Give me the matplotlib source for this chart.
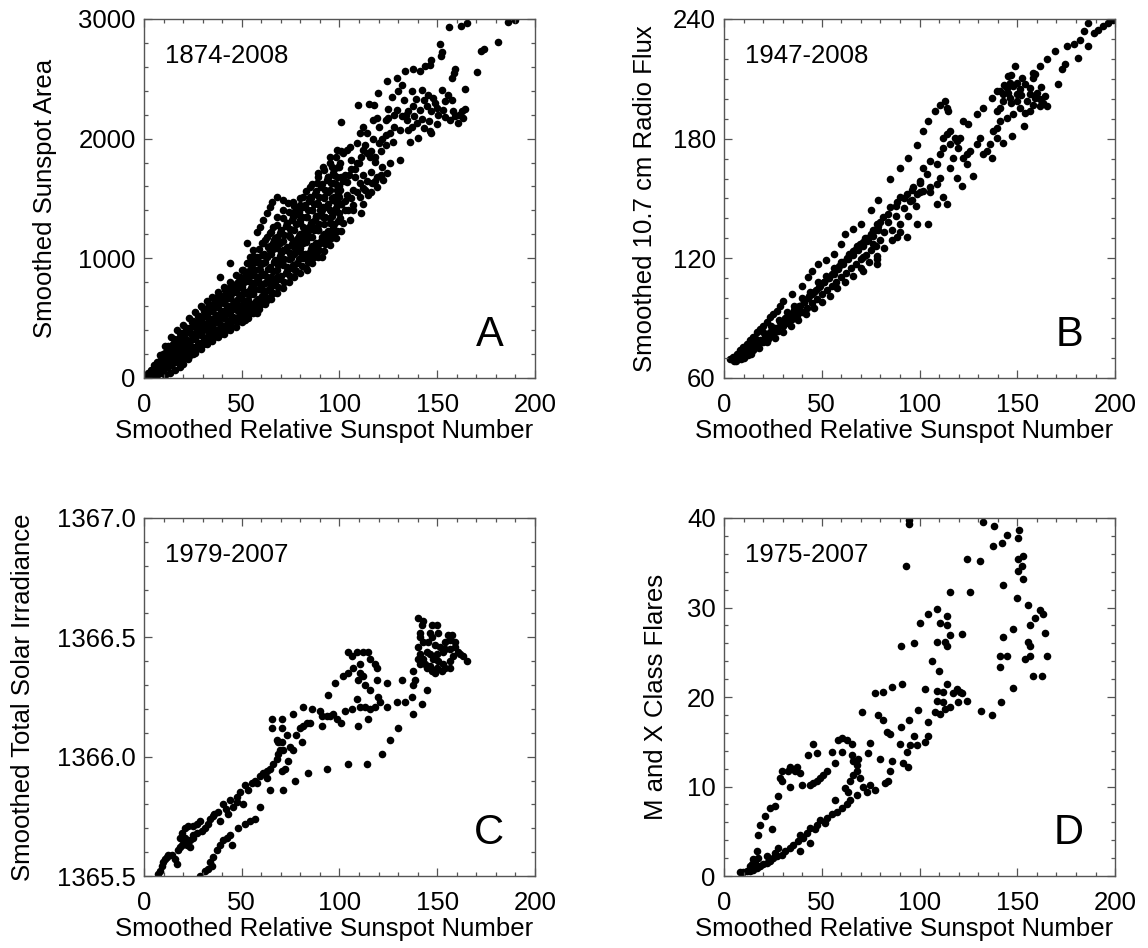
import numpy as np
import matplotlib.pyplot as plt
from matplotlib.ticker import MultipleLocator, FormatStrFormatter

plt.rcParams['font.family'] = ['Liberation Sans', 'DejaVu Sans']

# --- data (x = smoothed relative sunspot number) ---
area_pts = [
    (156, 2930), (162, 2945), (165, 2965), (186, 2975), (190, 2995), (181, 2808), (174, 2745), (172.5, 2730),
    (170.6, 2557), (151.4, 2790), (152.3, 2720), (151.8, 2688), (147, 2660), (146.3, 2618), (143.7, 2604),
    (159, 2582), (158.6, 2548), (157.4, 2506), (137.8, 2582), (141.2, 2562), (133.5, 2562), (129.2, 2506),
    (124.1, 2484), (119.9, 2381), (164.2, 2417), (109.3, 2277), (115.3, 2289), (117.6, 2283), (100.6, 2138),
    (125, 2171), (119, 2171), (117.3, 2157),
    (133, 2325), (137, 2395), (142, 2409), (145.4, 2367), (148, 2339), (152.3, 2409), (155.7, 2367),
    (157.4, 2325), (154, 2311), (137.8, 2269), (141.2, 2241), (144.6, 2269), (147, 2227), (150.6, 2199),
    (154, 2180), (156.5, 2157), (159, 2185), (162.5, 2227), (164.2, 2247), (160.8, 2129), (131.8, 2185),
    (134.4, 2157), (139.5, 2129), (143, 2088), (146.3, 2060), (137, 2101), (136, 1976), (140.3, 2004),
    (147, 2046), (129.2, 2241), (131, 2074), (135.2, 2074), (124, 2157), (127.5, 1976), (131, 1823),
    (124, 2032), (120, 1962), (150, 2260), (153, 2240), (158, 2230), (161, 2200), (163, 2170), (149, 2300),
    (143, 2320), (139, 2330), (146, 2150), (150, 2120), (142, 2160), (135, 2230), (134, 2200), (138, 2190),
    (112, 2101), (110.5, 2046), (108.8, 1962), (105.4, 1934), (103.7, 1906), (102, 1878), (112, 1906),
    (114, 1878), (115.6, 1850), (118, 1808), (121.6, 1767), (124.1, 1711), (119, 1683), (116.5, 1627),
    (112.2, 1585), (110.5, 1515), (107, 1446), (104.5, 1404), (105.4, 1320), (102, 1292), (95, 1850),
    (98.5, 1906), (96, 1767), (91.7, 1767), (89, 1711), (94.3, 1683), (96.8, 1627), (98.5, 1571), (100, 1515),
    (103.7, 1529), (107, 1571), (110.5, 1627), (113, 1571), (114.8, 1529), (119, 1599), (122.4, 1655),
    (100, 1600), (102, 1650), (105, 1700), (108, 1750), (110, 1800), (106, 1820), (100, 1760), (97, 1700),
    (104, 1640), (108, 1680), (112, 1700), (116, 1720), (114, 1650), (101, 1450), (98, 1420), (103, 1480),
    (103, 1700), (106, 1750), (109, 1800), (111, 1850), (113, 1950), (116, 1900), (118, 1850), (121, 1900),
    (124, 1950), (126, 2050), (128, 2100), (122, 2000), (117, 2000), (114, 2050), (120, 2100), (125, 2250),
    (127, 2350), (130, 2400), (132, 2450), (128, 2200), (106, 1500), (109, 1550), (112, 1450), (116, 1550),
    (118, 1650), (121, 1700), (126, 1800), (103, 1400), (107, 1400), (111, 1380),
    (88.3, 1627), (85, 1599), (81.5, 1515), (79.8, 1446), (85, 1515), (88.3, 1460), (91.7, 1432), (95, 1404),
    (98.5, 1460), (91.7, 1348), (95, 1292), (96.8, 1208), (93.4, 1153), (90, 1125), (90.9, 1013), (85, 1013),
    (81.5, 1013), (77.2, 901), (83.2, 901), (78, 1125), (74.7, 1181), (73, 1292), (76.4, 1376), (71.3, 1404),
    (67.9, 1348), (66, 1264), (64.4, 1208), (65.3, 1474), (64.4, 1432), (62.7, 1376), (61, 1320), (59.3, 1264),
    (57.6, 1222), (60.2, 1125), (55.9, 1069), (54.2, 1013), (52.5, 957), (50.8, 901), (49.1, 846), (47.4, 790),
    (44, 762), (38.9, 846), (41.4, 734), (44, 678), (47.4, 650), (52.5, 622), (57.6, 594), (53.4, 539),
    (50.8, 483), (44, 427), (43.1, 580), (37.2, 678), (35.5, 622), (33.8, 567), (32, 511), (29.5, 594),
    (28.6, 455), (27, 399), (25.2, 343), (22.7, 287), (20.1, 231), (17.6, 176), (15, 134), (12.4, 92),
    (9.9, 64), (7.3, 36), (4.8, 22), (2.2, 8), (44, 958), (52.8, 1125),
    (67.9, 1515), (71.3, 1488), (73.8, 1460), (76.4, 1474), (78, 1404), (79.8, 1320), (81.5, 1264),
    (83.2, 1348), (85.8, 1404), (86.6, 1264), (89.2, 1236), (85, 1181), (81.5, 1125), (78, 1069),
    (74.7, 1041), (71.3, 1069), (69.6, 1125), (67.9, 1181), (66, 1125), (64.4, 1069), (62.7, 1013), (61, 957),
    (59.3, 901), (57.6, 846), (55.9, 790), (54.2, 734), (50.8, 706), (49.1, 762), (52.5, 846), (54.2, 901),
    (55.9, 957), (57.6, 1013), (61, 1125), (62.7, 1181), (69.6, 985), (73, 929), (67.9, 846), (64.4, 790),
    (61, 734), (62.7, 650), (64.4, 678), (59.3, 650), (55.9, 706), (49.1, 567), (45.7, 511), (47.4, 567),
    (40.6, 511), (38.9, 455), (37.2, 399), (35.5, 455), (33.8, 399), (32, 343), (30.4, 287), (27.8, 259),
    (25.2, 204), (22.7, 162), (20.1, 120), (18.4, 92), (15.9, 64), (13.3, 42), (10.7, 22), (38.9, 371),
    (42.3, 427), (44, 483), (50.8, 567), (54.2, 567), (57.6, 539), (51.7, 483),
    (80, 1200), (82, 1180), (84, 1230), (86, 1300), (88, 1350), (90, 1400), (92, 1500), (94, 1550),
    (96, 1500), (80, 1050), (75, 1000), (86, 1100), (88, 1050), (92, 1200), (96, 1350), (100, 1380),
    (76, 1100), (82, 1150),
]

# the dark core of panel A, read column by column across the band
area_band_pts = [
    (2, 5), (2, 17), (2, 28), (2, 40), (3.5, 25), (3.5, 45), (3.5, 65),
    (5, 25), (5, 53), (5, 82), (5, 110), (6.5, 54), (6.5, 92), (6.5, 131),
    (8, 45), (8, 93), (8, 142), (8, 190), (9.5, 90), (9.5, 146), (9.5, 202),
    (11, 80), (11, 143), (11, 207), (11, 270), (12.5, 130), (12.5, 200), (12.5, 270),
    (14, 110), (14, 187), (14, 263), (14, 340), (15.5, 162), (15.5, 245), (15.5, 328),
    (17, 130), (17, 220), (17, 310), (17, 400), (18.5, 188), (18.5, 281), (18.5, 374),
    (20, 155), (20, 250), (20, 345), (20, 440), (21.5, 218), (21.5, 318), (21.5, 419),
    (23, 180), (23, 287), (23, 393), (23, 500), (24.5, 250), (24.5, 360), (24.5, 470),
    (26, 210), (26, 323), (26, 437), (26, 550), (27.5, 286), (27.5, 402), (27.5, 517),
    (29, 245), (29, 363), (29, 482), (29, 600), (30.5, 322), (30.5, 441), (30.5, 560),
    (32, 280), (32, 400), (32, 520), (32, 640), (33.5, 356), (33.5, 478), (33.5, 599),
    (35, 310), (35, 433), (35, 557), (35, 680), (36.5, 388), (36.5, 512), (36.5, 637),
    (38, 340), (38, 467), (38, 593), (38, 720), (39.5, 419), (39.5, 548), (39.5, 676),
    (41, 370), (41, 500), (41, 630), (41, 760), (42.5, 451), (42.5, 583), (42.5, 714),
    (44, 400), (44, 533), (44, 667), (44, 800), (45.5, 484), (45.5, 622), (45.5, 761),
    (47, 430), (47, 573), (47, 717), (47, 860), (48.5, 522), (48.5, 665), (48.5, 808),
    (50, 470), (50, 613), (50, 757), (50, 900), (51.5, 559), (51.5, 707), (51.5, 856),
    (53, 500), (53, 653), (53, 807), (53, 960), (54.5, 598), (54.5, 755), (54.5, 912),
    (56, 540), (56, 700), (56, 860), (56, 1020), (57.5, 642), (57.5, 805), (57.5, 968),
    (59, 580), (59, 747), (59, 913), (59, 1080), (60.5, 686), (60.5, 858), (60.5, 1029),
    (62, 620), (62, 797), (62, 973), (62, 1150), (63.5, 731), (63.5, 913), (63.5, 1094),
    (65, 660), (65, 847), (65, 1033), (65, 1220), (66.5, 779), (66.5, 967), (66.5, 1156),
    (68, 710), (68, 900), (68, 1090), (68, 1280), (69.5, 827), (69.5, 1020), (69.5, 1213),
    (71, 750), (71, 947), (71, 1143), (71, 1340), (72.5, 873), (72.5, 1070), (72.5, 1267),
    (74, 800), (74, 997), (74, 1193), (74, 1390), (75.5, 919), (75.5, 1117), (75.5, 1316),
    (77, 840), (77, 1040), (77, 1240), (77, 1440), (78.5, 962), (78.5, 1165), (78.5, 1368),
    (80, 880), (80, 1087), (80, 1293), (80, 1500), (81.5, 1005), (81.5, 1215), (81.5, 1425),
    (83, 920), (83, 1133), (83, 1347), (83, 1560), (84.5, 1048), (84.5, 1265), (84.5, 1482),
    (86, 960), (86, 1180), (86, 1400), (86, 1620), (87.5, 1096), (87.5, 1318), (87.5, 1539),
    (89, 1010), (89, 1233), (89, 1457), (89, 1680), (90.5, 1148), (90.5, 1373), (90.5, 1598),
    (92, 1060), (92, 1287), (92, 1513), (92, 1740), (93.5, 1199), (93.5, 1428), (93.5, 1656),
    (95, 1110), (95, 1340), (95, 1570), (95, 1800), (96.5, 1254), (96.5, 1483), (96.5, 1711),
    (98, 1170), (98, 1397), (98, 1623), (98, 1850), (99.5, 1312), (99.5, 1538), (99.5, 1763),
    (101, 1230), (101, 1453), (101, 1677), (101, 1900),
]

# more dots of the same band, lying between the columns above
area_gap_pts = [
    (8.75, 57), (8.75, 105), (8.75, 154), (10.25, 81), (10.25, 130), (10.25, 178),
    (11.75, 96), (11.75, 159), (11.75, 222), (13.25, 127), (13.25, 191), (13.25, 254),
    (14.75, 129), (14.75, 206), (14.75, 282), (16.25, 168), (16.25, 244), (16.25, 321),
    (17.75, 152), (17.75, 242), (17.75, 332), (19.25, 197), (19.25, 287), (19.25, 377),
    (20.75, 179), (20.75, 274), (20.75, 369), (22.25, 226), (22.25, 321), (22.25, 416),
    (23.75, 207), (23.75, 313), (23.75, 420), (25.25, 260), (25.25, 367), (25.25, 473),
    (26.75, 238), (26.75, 352), (26.75, 465), (28.25, 295), (28.25, 408), (28.25, 522),
    (29.75, 275), (29.75, 393), (29.75, 511), (31.25, 334), (31.25, 452), (31.25, 570),
    (32.75, 310), (32.75, 430), (32.75, 550), (34.25, 370), (34.25, 490), (34.25, 610),
    (35.75, 341), (35.75, 464), (35.75, 587), (37.25, 402), (37.25, 526), (37.25, 649),
    (38.75, 372), (38.75, 498), (38.75, 625), (40.25, 435), (40.25, 562), (40.25, 688),
    (41.75, 403), (41.75, 533), (41.75, 663), (43.25, 468), (43.25, 598), (43.25, 728),
    (44.75, 433), (44.75, 567), (44.75, 700), (46.25, 500), (46.25, 633), (46.25, 767),
    (47.75, 466), (47.75, 609), (47.75, 753), (49.25, 537), (49.25, 681), (49.25, 824),
    (50.75, 506), (50.75, 649), (50.75, 793), (52.25, 577), (52.25, 721), (52.25, 864),
    (53.75, 538), (53.75, 692), (53.75, 845), (55.25, 615), (55.25, 768), (55.25, 922),
    (56.75, 580), (56.75, 740), (56.75, 900), (58.25, 660), (58.25, 820), (58.25, 980),
    (59.75, 622), (59.75, 788), (59.75, 955), (61.25, 705), (61.25, 872), (61.25, 1038),
    (62.75, 664), (62.75, 841), (62.75, 1018), (64.25, 753), (64.25, 929), (64.25, 1106),
    (65.75, 707), (65.75, 893), (65.75, 1080), (67.25, 800), (67.25, 987), (67.25, 1173),
    (68.75, 758), (68.75, 948), (68.75, 1138), (70.25, 853), (70.25, 1043), (70.25, 1233),
    (71.75, 799), (71.75, 996), (71.75, 1193), (73.25, 898), (73.25, 1094), (73.25, 1291),
    (74.75, 849), (74.75, 1046), (74.75, 1243), (76.25, 948), (76.25, 1144), (76.25, 1341),
    (77.75, 890), (77.75, 1090), (77.75, 1290), (79.25, 990), (79.25, 1190), (79.25, 1390),
    (80.75, 932), (80.75, 1138), (80.75, 1345), (82.25, 1035), (82.25, 1242), (82.25, 1448),
    (83.75, 973), (83.75, 1187), (83.75, 1400), (85.25, 1080), (85.25, 1293), (85.25, 1507),
    (86.75, 1015), (86.75, 1235), (86.75, 1455), (88.25, 1125), (88.25, 1345), (88.25, 1565),
    (89.75, 1066), (89.75, 1289), (89.75, 1512), (91.25, 1177), (91.25, 1401), (91.25, 1624),
    (92.75, 1117), (92.75, 1343), (92.75, 1570), (94.25, 1230), (94.25, 1457), (94.25, 1683),
    (95.75, 1168), (95.75, 1398), (95.75, 1628), (97.25, 1283), (97.25, 1513), (97.25, 1743),
    (98.75, 1227), (98.75, 1453), (98.75, 1680), (100.25, 1340), (100.25, 1567), (100.25, 1793),
]

flux_pts = [
    (3.1, 69.7), (4.8, 70.5), (6.5, 72.2), (8.2, 73.8), (9.9, 75.5), (11.6, 77.2), (13.3, 78.8), (15, 80.5),
    (16.7, 83), (18.4, 84.7), (20.1, 86.3), (21.8, 88), (23.5, 90.5), (25.2, 92.2), (26.9, 93.8), (28.6, 96.3),
    (30, 98.8), (35, 102), (40, 106), (43, 110.5), (45, 113.8), (48, 117), (52, 119), (56, 122), (60, 127),
    (62, 132), (66, 134.7), (70, 137), (75, 144), (79, 149), (85, 160), (90, 165.5), (94, 170.5), (98.5, 177),
    (102, 184), (104.5, 189), (108, 194), (110.5, 197), (113, 199), (113.9, 195.5), (114.8, 193.8),
    (5, 68.5), (7, 70), (9, 71.5), (11, 73), (13, 74), (15, 75.5), (17, 77), (19, 78.5), (21, 80), (23, 81.5),
    (25, 83), (27, 85), (29, 87), (31, 89), (33, 90.5), (35, 92), (37, 94), (39, 96), (41, 98), (43, 100),
    (45, 102), (47, 104), (49, 106), (51, 108), (53, 110), (55, 112), (57, 114), (59, 116), (61, 118),
    (63, 120), (65, 122), (67, 124), (69, 126), (71, 128), (73, 130), (75, 132), (77, 134), (79, 136),
    (10, 70), (14, 72), (18, 75), (22, 78), (26, 80), (30, 83), (34, 86), (38, 89), (42, 92), (46, 95),
    (50, 98), (54, 101), (58, 105), (62, 108), (66, 111), (70, 115), (74, 118), (78, 121), (82, 125),
    (86, 129), (90, 133), (12, 76), (16, 80), (20, 83), (24, 86), (28, 89), (32, 93), (36, 96), (40, 100),
    (44, 103), (48, 108), (52, 111), (56, 115), (60, 118), (64, 122), (68, 126), (72, 130), (76, 134),
    (80, 138), (84, 142), (88, 146), (92, 150), (96, 154), (100, 158),
    (6, 68.5), (7.5, 71), (8.5, 69.5), (10, 72), (11.5, 74), (12.5, 71.5), (13.5, 75.5), (15, 74), (16, 77),
    (17.5, 75.5), (18.5, 79), (20, 78), (21, 81), (22.5, 79.5), (23.5, 83), (25, 81.5), (26, 85), (27.5, 83.5),
    (28.5, 88), (30, 86), (31, 90), (32.5, 87.5), (33.5, 92), (35, 89.5), (36, 94), (37.5, 91), (38.5, 96),
    (40, 93), (41, 98), (42.5, 95), (43.5, 101), (45, 97.5), (46, 103), (47.5, 99.5), (48.5, 105.5), (50, 102),
    (51, 108), (52.5, 104), (53.5, 110), (55, 106), (56, 112), (57.5, 108), (58.5, 114.5), (60, 110.5),
    (61, 117), (62.5, 112.5), (63.5, 119.5), (65, 115), (66, 121.5), (67.5, 117), (68.5, 124), (70, 119.5),
    (71, 126), (72.5, 121.5), (73.5, 129), (75, 124), (76, 131), (77.5, 126), (78.5, 134), (80, 129),
    (82, 133), (84, 138), (86, 134), (88, 141), (90, 137), (92, 145), (94, 141), (96, 149), (98, 146),
    (100, 153),
    (108.8, 167.2), (110.5, 172.2), (112, 175.5), (115.6, 177.2), (119, 178.8), (120.7, 180.5), (117.3, 170.5),
    (115.6, 165.5), (119, 160.5), (121.6, 156.3), (113.9, 147.2), (112.2, 150.5), (108.8, 147.2), (105.4, 153),
    (104.5, 137.2), (98.5, 137.2), (93.4, 130.5), (88.3, 130.5), (78, 119.7), (71.3, 113.8),
    (78, 137.2), (81.5, 140.5), (85, 145.5), (88.3, 148), (90, 150.5), (93.4, 152.2), (96.8, 155.5),
    (100.2, 158.8), (103.7, 162.2), (102, 165.5), (105.4, 168.8), (112.2, 180.5), (113.9, 182.2),
    (115.6, 183.8), (118.1, 180.5), (119.8, 175.5), (122.4, 170.5), (124.1, 167.2), (66.2, 123.8),
    (69.6, 127.2), (73, 128.8), (76.4, 127.2), (71.3, 120.5), (78, 117.2), (102, 153.8), (105.4, 155.5),
    (108.8, 157.2), (110.5, 160.5), (95, 148.8), (98.5, 152.2),
    (141.2, 203.8), (142.9, 202.2), (144.6, 205.5), (146.3, 208), (148, 206.3), (142.9, 198.8), (141.2, 195.5),
    (139.5, 193.8), (146.3, 200.5), (149.7, 202.2), (151.4, 204.7), (153.9, 207.2), (156.5, 205.5),
    (158.2, 210.5), (159.1, 212.2), (156.5, 202.2), (159.1, 200.5), (161.6, 199.7), (164.2, 201.3), (165, 196.3),
    (161.6, 196.3), (156.5, 193.8), (154, 193), (151.4, 195.5), (148, 192.2), (144.6, 190.5), (141.2, 188.8),
    (153.2, 186.3), (147.1, 181.3), (142.9, 178), (139.5, 180.5), (136, 177.2), (134.4, 173.8), (132.7, 172.2),
    (137, 170.5), (131, 180.5), (129.2, 177.2), (125.8, 173.8), (127.5, 161.3), (124.1, 172.2), (122.4, 188.8),
    (124.9, 187.2), (129.2, 192.2), (132.7, 195.5), (137, 200.5), (139.5, 203.8), (145.4, 211.3),
    (148.9, 216.3), (152.3, 210.5), (139.5, 185.5), (137.8, 183.8), (143, 207), (145, 203), (147, 198),
    (150, 199), (152, 202), (155, 199), (158, 197), (160, 203), (162, 206), (150, 208), (147, 212), (163, 198),
    (171, 207.5), (172.7, 214.7), (174.4, 217.2), (181.2, 220.5), (186.4, 226.3), (169.4, 223.8), (165, 219.7),
    (161.6, 216.3), (158.2, 213), (175.3, 226.3), (178.8, 227.2), (182.2, 229.7), (184, 233.8), (186.4, 238),
    (189, 233), (191.5, 234.7), (194, 236.3), (196.6, 238), (199.1, 239.7),
]

tsi_pts = [
    (7.3, 1365.51), (8.2, 1365.52), (9, 1365.54), (9.9, 1365.56), (10.7, 1365.57), (11.6, 1365.58),
    (12.4, 1365.59), (14.2, 1365.59), (15.9, 1365.57), (16.7, 1365.55), (17.6, 1365.61), (18.4, 1365.62),
    (19.3, 1365.63), (20.1, 1365.65), (21, 1365.66), (18.4, 1365.66), (19.3, 1365.68), (21, 1365.70),
    (22.7, 1365.71), (25.2, 1365.71), (27, 1365.72), (28.6, 1365.73), (29.5, 1365.69), (27, 1365.68),
    (25.2, 1365.66), (23.5, 1365.65), (21.8, 1365.63), (23.5, 1365.62), (31.2, 1365.70), (33.8, 1365.74),
    (35.5, 1365.75), (38, 1365.77), (40.6, 1365.80), (44, 1365.82), (45.7, 1365.79), (43.1, 1365.76),
    (38.9, 1365.73), (47.4, 1365.83), (49.1, 1365.85), (51.7, 1365.88), (53.4, 1365.86), (55.1, 1365.89),
    (56.8, 1365.90), (59.3, 1365.92), (61, 1365.93), (62.7, 1365.94), (64.4, 1365.95), (66, 1365.97),
    (67.9, 1365.99), (68.7, 1366.01), (69.6, 1366.03), (68.7, 1366.06), (67.9, 1366.07), (70.4, 1366.06),
    (71.3, 1366.03), (73.8, 1365.98), (72.1, 1365.95), (70.4, 1365.94), (47.4, 1365.81), (50.8, 1365.80),
    (25.2, 1365.67), (33, 1365.72), (36, 1365.76), (42, 1365.78), (58, 1365.89), (63, 1365.91),
    (65.3, 1366.16), (65.3, 1366.12), (70.4, 1366.16), (70.4, 1366.12), (76.4, 1366.18), (81.5, 1366.21),
    (85.8, 1366.20), (73, 1366.09), (76.4, 1366.03), (74.7, 1366.04), (78, 1366.09), (79.8, 1366.12),
    (81.5, 1366.13), (83.2, 1366.14), (85, 1366.14), (80.7, 1366.06), (90, 1366.19), (90.9, 1366.17),
    (93.4, 1366.17), (95, 1366.17), (96.8, 1366.18), (98.5, 1366.16), (101, 1366.14), (102.8, 1366.19),
    (90.9, 1366.13), (94.3, 1366.26), (97.7, 1366.31), (102, 1366.34), (104.5, 1366.44), (106.2, 1366.42),
    (108.8, 1366.44), (112.2, 1366.44), (114.8, 1366.44), (115.6, 1366.41), (118.1, 1366.39), (119, 1366.37),
    (110.5, 1366.39), (107, 1366.37), (104.5, 1366.35), (110.5, 1366.35), (112.2, 1366.34), (109.7, 1366.32),
    (113.1, 1366.30), (115.6, 1366.28), (119, 1366.32), (124.1, 1366.31), (131.8, 1366.32), (108.8, 1366.24),
    (110.5, 1366.21), (113.1, 1366.21), (115.6, 1366.20), (118.1, 1366.21), (119.9, 1366.25), (120.7, 1366.23),
    (106.2, 1366.20), (109.7, 1366.13), (114.8, 1366.16), (124.1, 1366.21), (129.2, 1366.23), (133.5, 1366.23),
    (137, 1366.25), (142, 1366.22), (144.6, 1366.28), (137.8, 1366.30), (138.6, 1366.32), (137.8, 1366.36),
    (28.6, 1365.50), (31.2, 1365.52), (32.9, 1365.53), (34.6, 1365.54), (33.8, 1365.56), (35.5, 1365.58),
    (37.2, 1365.61), (38.9, 1365.63), (40.6, 1365.65), (42.3, 1365.66), (44.8, 1365.63), (44, 1365.67),
    (48.2, 1365.70), (51.7, 1365.72), (54.2, 1365.73), (56.8, 1365.74), (59.3, 1365.79), (64.4, 1365.86),
    (71.3, 1365.86), (77.2, 1365.90), (84, 1365.93), (93.4, 1365.95), (104.5, 1365.97), (113.9, 1365.97),
    (121.6, 1366.01), (125.8, 1366.07), (130.1, 1366.12), (137.8, 1366.18),
    (140.3, 1366.58), (142.9, 1366.57), (142, 1366.55), (141.2, 1366.52), (141.2, 1366.50), (142.9, 1366.48),
    (140.3, 1366.46), (141.2, 1366.43), (142.9, 1366.41), (140.3, 1366.41), (141.2, 1366.39), (143.8, 1366.39),
    (146.3, 1366.38), (147.1, 1366.36), (144.6, 1366.37), (148.9, 1366.35), (149.7, 1366.37), (152.3, 1366.36),
    (153.9, 1366.37), (156.5, 1366.37), (147.1, 1366.55), (149.7, 1366.55), (150.6, 1366.52), (146.3, 1366.52),
    (147.1, 1366.50), (148.9, 1366.47), (151.4, 1366.46), (153.9, 1366.45), (155.7, 1366.51), (157.4, 1366.51),
    (156.5, 1366.49), (159, 1366.48), (159, 1366.46), (160.8, 1366.44), (161.6, 1366.43), (163.3, 1366.42),
    (165, 1366.40), (158.2, 1366.42), (156.5, 1366.45), (153.9, 1366.48), (153.2, 1366.44), (149.7, 1366.43),
    (146.3, 1366.43), (144.6, 1366.44), (145.4, 1366.48), (148, 1366.41), (150.6, 1366.40), (153.2, 1366.39),
    (156.5, 1366.40),
]

flare_pts = [
    (94.8, 39.8), (94.8, 39.3), (93.1, 34.6), (132.3, 39.5), (138.3, 39.1), (137.8, 36.9), (142.2, 37.2),
    (144.6, 38.1), (151.1, 38.7), (150.6, 37.8), (124.1, 35.4), (131, 35.2), (150.6, 35.4), (153.1, 35.7),
    (152.3, 34.6), (150.6, 34.1), (153.1, 33.2), (142.9, 32.5), (115.6, 31.7), (125.8, 31.7), (149.7, 31.1),
    (155.7, 30.3), (161.6, 29.7), (163.3, 29.3), (159.1, 28.8), (156.5, 28), (148, 27.6), (142.9, 26.7),
    (164.1, 27.2), (155.7, 26.1), (156.5, 25.7), (141.2, 24.6), (144.6, 24.6), (141.2, 23.4), (156.5, 24.6),
    (154, 24.2), (165, 24.6), (158.2, 22.3), (162.5, 22.3), (147.6, 21), (141.7, 19.4), (131.5, 18.4),
    (136.9, 18),
    (100.3, 28.3), (104.5, 29.3), (108.8, 29.8), (110.5, 28.3), (113.9, 29.1), (114.2, 28.1), (108.8, 26.1),
    (113.1, 26.1), (114, 25.7), (115.6, 26.9), (121.6, 27), (90.4, 25.7), (97.2, 26), (106.2, 24),
    (110.1, 22.9), (102.8, 20.9), (113.9, 21.4), (108.8, 20.7), (112.2, 20.6), (119, 20.9), (120.7, 20.6),
    (121.6, 20.4), (117.3, 20.4), (124.1, 19.6), (119.9, 19.4), (108.8, 19.6), (112.2, 19.4), (107.9, 18.3),
    (110.5, 18.1), (113.1, 18.7), (115.6, 18.9), (90.9, 21.4), (85.8, 21.1), (81.5, 20.6), (77.2, 20.4),
    (70.8, 18.3), (78.9, 18), (81.5, 17.4), (94.6, 17.4), (99, 18.6), (104.5, 17.2), (90.5, 16.6),
    (83.2, 16.1), (85, 15.9), (97.2, 15.7), (104.2, 15.7), (102.8, 15), (98.5, 14.6), (95.1, 14.6),
    (90.1, 14.8), (93.8, 13.9), (94.3, 12.2), (91.7, 12.6), (85.8, 12.8), (85, 11.7), (84.1, 10.6),
    (82.4, 10.4), (79.8, 13.1), (74.7, 14.9), (73.8, 13.7), (68.7, 13.1), (66.2, 12.8), (67.9, 12.4),
    (65.3, 13.5), (67.9, 11.7), (69.6, 10.9), (71.3, 10), (73, 9.4), (74.7, 10.2), (77.2, 9.6), (66, 11.3),
    (64.4, 10.6), (61.9, 9.8), (63.6, 9.4), (67.9, 9.1), (64.4, 8.5), (62.7, 8), (60.2, 7.6), (57.6, 7.2),
    (56.8, 8.5), (55.1, 6.9), (52.5, 6.5), (51.7, 5.9), (49.1, 6.3), (47.4, 5.7), (46.6, 5.2), (44, 5.4),
    (42.3, 4.8), (40.6, 4.3), (38.9, 4.6), (38, 3.9), (35.5, 3.5), (33.8, 3.1), (31.2, 2.8), (29.5, 2.4),
    (26.9, 2.2), (25.2, 2), (23.5, 1.7), (21.8, 1.5), (20.1, 1.3), (18.4, 1.1), (16.7, 0.9), (15, 0.7),
    (13.3, 0.6), (11.6, 0.6), (9.9, 0.4), (8.2, 0.4), (14.2, 1.3), (15.9, 1.5), (17.6, 2), (15, 1.9),
    (13.3, 1.1), (16.7, 2.8), (21.8, 2.2), (26.1, 2.6), (27.8, 3.1), (38.9, 2.8), (44, 3.7),
    (17.6, 4.6), (18.4, 5.7), (21, 6.7), (23.5, 7.6), (26.1, 7.8), (24.4, 5.2), (27.8, 8.9), (29.5, 10.6),
    (28.6, 10.9), (29.5, 11.7), (32.9, 11.7), (33.8, 12.2), (37.2, 12.2), (36.3, 11.7), (38.9, 11.5),
    (39.7, 10.2), (33.8, 10), (44, 10.2), (45.7, 10.4), (47.4, 10.6), (49.1, 10.9), (50.8, 11.3),
    (52.5, 11.7), (45.7, 14.7), (47.4, 13.7), (43.1, 13.5), (55.1, 13.9), (56.8, 12.6), (58.5, 15.2),
    (60.2, 15.4), (62.7, 15.2), (65.3, 14.8), (60.2, 13.9),
]

panels = [
    dict(pts=area_pts + area_band_pts + area_gap_pts, ylim=(0, 3000), ymaj=1000, ymin=200, fmt='%d',
         ylabel='Smoothed Sunspot Area', years='1874-2008', tag='A', lpad=15),
    dict(pts=flux_pts, ylim=(60, 240), ymaj=60, ymin=10, fmt='%d',
         ylabel='Smoothed 10.7 cm Radio Flux', years='1947-2008', tag='B', lpad=11),
    dict(pts=tsi_pts, ylim=(1365.5, 1367.0), ymaj=0.5, ymin=0.1, fmt='%.1f',
         ylabel='Smoothed Total Solar Irradiance', years='1979-2007', tag='C', lpad=16),
    dict(pts=flare_pts, ylim=(0, 40), ymaj=10, ymin=2, fmt='%d',
         ylabel='M and X Class Flares', years='1975-2007', tag='D', lpad=14),
]

boxes = [[0.1254, 0.6013, 0.3406, 0.3787], [0.6307, 0.6013, 0.3406, 0.3787],
         [0.1254, 0.0759, 0.3406, 0.3777], [0.6307, 0.0759, 0.3406, 0.3777]]

fs = 18.5
fig = plt.figure(figsize=(11.48, 9.48), dpi=100)
for p, box in zip(panels, boxes):
    ax = fig.add_axes(box)
    x, y = np.array(p['pts']).T
    ax.scatter(x, y, s=30, c='black', linewidths=0)
    ax.set_xlim(0, 200)
    ax.set_ylim(*p['ylim'])
    ax.xaxis.set_major_locator(MultipleLocator(50))
    ax.xaxis.set_minor_locator(MultipleLocator(10))
    ax.yaxis.set_major_locator(MultipleLocator(p['ymaj']))
    ax.yaxis.set_minor_locator(MultipleLocator(p['ymin']))
    ax.yaxis.set_major_formatter(FormatStrFormatter(p['fmt']))
    ax.tick_params(which='both', direction='in', top=True, right=True, color='#555555', labelsize=fs)
    ax.tick_params(which='major', length=6, width=0.9)
    ax.tick_params(which='minor', length=3, width=0.9)
    ax.tick_params(axis='x', pad=11)
    ax.tick_params(axis='y', pad=6)
    for s in ax.spines.values():
        s.set_color('#555555')
        s.set_linewidth(1.0)
    ax.set_xlabel('Smoothed Relative Sunspot Number', fontsize=fs)
    ax.xaxis.set_label_coords(0.46, -0.115)
    ax.set_ylabel(p['ylabel'], fontsize=fs, labelpad=p['lpad'])
    ax.text(0.054, 0.93, p['years'], transform=ax.transAxes, fontsize=fs, va='top', ha='left')
    ax.text(0.92, 0.065, p['tag'], transform=ax.transAxes, fontsize=30, va='bottom', ha='right')

fig.savefig('out.png', dpi=100)
